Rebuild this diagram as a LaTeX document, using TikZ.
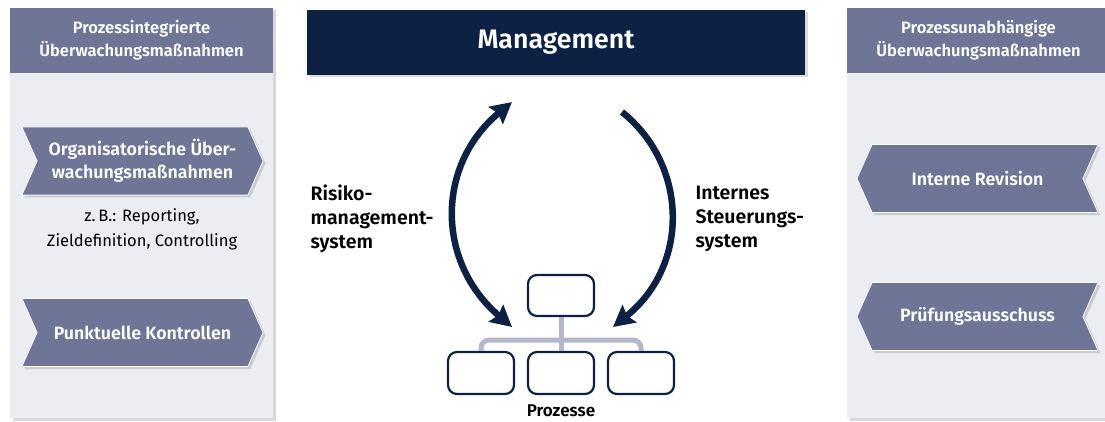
\documentclass[tikz,border=0pt]{standalone}
\usepackage{fontspec}
\setmainfont{Fira Sans}[BoldFont={Fira Sans SemiBold}]
\usetikzlibrary{positioning, arrows.meta, shapes.symbols, shadows}

\definecolor{slate}{RGB}{111,117,150}
\definecolor{pale}{RGB}{236,237,242}
\definecolor{navy}{RGB}{13,33,68}
\definecolor{twig}{RGB}{180,183,204}

\begin{document}
\begin{tikzpicture}[x=1pt, y=-1pt, node distance=80pt, on grid,
    shade/.style={drop shadow={shadow xshift=2.5pt, shadow yshift=-2.5pt, opacity=.3}},
    panel/.style={fill=pale, shade},
    head/.style={fill=slate, text=white, font=\bfseries\fontsize{16.5}{23}\selectfont,
        align=center, minimum width=263pt, minimum height=65pt, inner sep=0pt},
    tag/.style={signal, fill=slate, draw=white, line width=.7pt, text=white,
        font=\bfseries\fontsize{17.8}{23}\selectfont, align=center, minimum width=241pt,
        minimum height=68pt, inner sep=0pt, signal pointer angle=132, shade},
    fwd/.style={tag, signal from=west, signal to=east},
    back/.style={tag, signal from=east, signal to=west},
    unit/.style={draw=navy, line width=2.2pt, fill=white, rounded corners=9pt,
        minimum width=66pt, minimum height=42pt},
    twigline/.style={draw=twig, line width=5pt, rounded corners=8pt},
    swing/.style={draw=navy, line width=6.5pt},
    tip/.tip={Stealth[length=21pt, width=22pt, inset=3pt]},
    side/.style={font=\bfseries\fontsize{19.5}{24}\selectfont, align=left, anchor=west}
  ]
    \useasboundingbox (0,0) rectangle (1105,422);

    \path[panel] (10,8) rectangle (273,418);
    \path[panel] (847,8) rectangle (1112,418);
    \node[head]  (inhead) at (141.5,40.5) {Prozessintegrierte\\Überwachungsmaßnahmen};
    \node[head]  (exhead) at (978.5,40.5) {Prozessunabhängige\\Überwachungsmaßnahmen};

    \node[fwd]   (org)   at (142.5,161) {Organisatorische Über-\\wachungsmaßnahmen};
    \node[fwd]   (spot)  [below=171.5pt of org] {Punktuelle Kontrollen};
    \node[font=\fontsize{16.5}{25}\selectfont, align=center] (eg) at (142,229.5)
        {z.\,B.: Reporting,\\Zieldefinition, Controlling};
    \node[back]  (rev)   at (977.5,178.5) {Interne Revision};
    \node[back]  (audit) [below=138pt of rev] {Prüfungsausschuss};

    \node[fill=navy, text=white, font=\bfseries\fontsize{26.7}{30}\selectfont,
        minimum width=498pt, minimum height=65pt, shade] (mgmt) at (556,42.5) {Management};

    \node[unit, minimum height=41pt] (pc) at (561,295.5) {};
    \node[unit]  (pm)    [below=77.5pt of pc] {};
    \node[unit]  (pl)    [left= of pm] {};
    \node[unit]  (pr)    [right= of pm] {};
    \node[font=\bfseries\fontsize{17}{20}\selectfont, inner sep=1pt] (proc) [below=38pt of pm] {Prozesse};
    \coordinate  (bar)   at (561,340);
    \draw[twigline] (pl.north) |- (bar) -| (pr.north);
    \draw[twigline] (pc.south) -- (pm.north);

    \node[side]  (rms)   at (307,219) {Risiko-\\management-\\system};
    \node[side]  (iss)   at (692,219) {Internes\\Steuerungs-\\system};

    \coordinate (rmslow) at (512,327);
    \coordinate (rmstop) at (512,102);
    \coordinate (isstop) at (622,112);
    \coordinate (isslow) at (613,327);
    \draw[swing, tip-tip] (rmslow) .. controls (436,262) and (436,165) .. (rmstop);
    \draw[swing, -tip] (isstop) .. controls (688,165) and (690,265) .. (isslow);
\end{tikzpicture}
\end{document}
